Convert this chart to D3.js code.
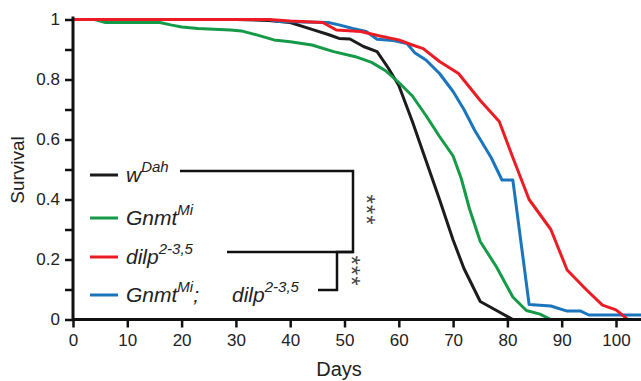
<!DOCTYPE html>
<html>
<head>
<meta charset="utf-8">
<script src="https://cdn.jsdelivr.net/npm/d3@7"></script>
<style>
  html, body { margin: 0; padding: 0; background: #fff; }
  svg { display: block; font-family: "Liberation Sans", Arial, sans-serif; }
</style>
</head>
<body>
<div id="chart"></div>
<script>
// survival curves, [day, fraction alive]
const wDah = [[0,1],[30,1],[36,0.997],[40,0.99],[44,0.967],[47,0.95],[49,0.937],[51,0.935],[53.5,0.91],[56,0.893],
  [58,0.84],[60,0.78],[62.5,0.66],[65,0.53],[67.5,0.40],[70,0.265],[72,0.17],[75,0.06],[78,0.03],[81,0]];
const gnmt = [[0,1],[4,1],[6,0.99],[16,0.99],[18,0.982],[20,0.975],[23,0.97],[29,0.965],[31,0.962],[34,0.948],
  [37,0.932],[40,0.926],[44,0.915],[48,0.893],[52,0.876],[55,0.857],[57.5,0.83],[60,0.79],[62.5,0.745],[65,0.68],
  [67.5,0.61],[70,0.545],[71.5,0.47],[73,0.37],[75,0.26],[78,0.175],[81,0.075],[83.5,0.03],[86,0.018],[88,0],[91,0]];
const dilp = [[0,1],[36,1],[40,0.995],[46,0.99],[48.5,0.965],[53,0.96],[56.5,0.945],[60,0.932],[62.5,0.915],
  [64.5,0.903],[67.5,0.86],[71,0.82],[75,0.73],[78.5,0.66],[81,0.54],[84,0.40],[86,0.35],[88,0.30],[91,0.165],
  [94.5,0.10],[97.5,0.048],[100,0.032],[102,0.003]];
const gnmtDilp = [[0,1],[36,1],[38,0.993],[47,0.99],[49,0.982],[51.5,0.97],[54,0.96],[56,0.934],[59,0.93],
  [61.5,0.92],[63,0.888],[65,0.865],[67.5,0.82],[70,0.76],[72,0.70],[74,0.63],[77,0.54],[79,0.465],[81,0.465],
  [84,0.05],[88,0.045],[91,0.028],[93.5,0.028],[95,0.015],[105,0.015]];

const xTicks = [0,10,20,30,40,50,60,70,80,90,100];
const yTicks = [0,0.2,0.4,0.6,0.8,1];
const yMinor = [0.1,0.3,0.5,0.7,0.9];

const W = 641, H = 381;
const svg = d3.select("#chart").append("svg").attr("width", W).attr("height", H);

const x = d3.scaleLinear().domain([0,105]).range([73, 73 + 105*5.43]);
const y = d3.scaleLinear().domain([0,1]).range([319.5, 19.5]);

// curves
const series = [
  {data: wDah, color: "#1c1c1c"},
  {data: gnmt, color: "#159a48"},
  {data: gnmtDilp, color: "#1b75bc"},
  {data: dilp, color: "#ec1c24"}
];
const line = d3.line().x(d => x(d[0])).y(d => y(d[1]));
svg.append("clipPath").attr("id","clip").append("rect")
  .attr("x", 73).attr("y", 0).attr("width", W-73).attr("height", 321);
svg.append("g").attr("clip-path","url(#clip)")
  .selectAll("path").data(series).enter().append("path")
  .attr("d", d => line(d.data))
  .attr("fill","none").attr("stroke", d => d.color)
  .attr("stroke-width", 3).attr("stroke-linejoin","round");

// axes
const xAxis = svg.append("g").attr("transform","translate(0,319.5)")
  .call(d3.axisBottom(x).tickValues(xTicks).tickSize(8).tickPadding(6).tickSizeOuter(0));
const yAxis = svg.append("g").attr("transform","translate(73,0)")
  .call(d3.axisLeft(y).tickValues(yTicks).tickFormat(d3.format("~g")).tickSize(8).tickPadding(5).tickSizeOuter(0));
svg.append("g").attr("transform","translate(73,0)")
  .call(d3.axisLeft(y).tickValues(yMinor).tickFormat("").tickSize(8).tickSizeOuter(0))
  .select(".domain").remove();
svg.selectAll(".domain").attr("stroke","#111").attr("stroke-width",3);
svg.selectAll(".tick line").attr("stroke","#111").attr("stroke-width",2.5);
xAxis.select(".domain").attr("d", `M${73},0H${W}`);
yAxis.select(".domain").attr("d", `M0,${y(1)-3}V${y(0)}`);
svg.selectAll(".tick text").attr("font-size", 17).attr("fill","#222")
  .attr("font-family", "Liberation Sans, Arial, sans-serif");

// axis titles
svg.append("text").attr("x", 339).attr("y", 376).attr("text-anchor","middle")
  .attr("font-size", 20).attr("fill","#222").text("Days");
svg.append("text").attr("transform","translate(24,170) rotate(-90)").attr("text-anchor","middle")
  .attr("font-size", 19).attr("fill","#222").text("Survival");

// legend
const legend = [
  {name: "w", sup: "Dah", color: "#1c1c1c", y: 175},
  {name: "Gnmt", sup: "Mi", color: "#159a48", y: 218},
  {name: "dilp", sup: "2-3,5", color: "#ec1c24", y: 257},
  {name: "Gnmt", sup: "Mi", extra: ";", color: "#1b75bc", y: 295}
];
const lg = svg.append("g");
legend.forEach(d => {
  lg.append("line").attr("x1", 90).attr("x2", 118).attr("y1", d.y).attr("y2", d.y)
    .attr("stroke", d.color).attr("stroke-width", 3);
  const t = lg.append("text").attr("x", 126).attr("y", d.y + 7)
    .attr("font-size", 21).attr("font-style","italic").attr("fill","#222");
  t.append("tspan").text(d.name);
  t.append("tspan").attr("dy", -10).attr("font-size", 15).text(d.sup);
  if (d.extra) t.append("tspan").attr("dy", 10).attr("font-size", 21).text(d.extra);
});
const t4 = lg.append("text").attr("x", 232).attr("y", 302)
  .attr("font-size", 21).attr("font-style","italic").attr("fill","#222");
t4.append("tspan").text("dilp");
t4.append("tspan").attr("dy", -10).attr("font-size", 15).text("2-3,5");

// significance brackets
const br = svg.append("g").attr("fill","none").attr("stroke","#111").attr("stroke-width",2.5);
br.append("path").attr("d","M180,171H353V252H227");
br.append("path").attr("d","M353,252H337V290H318");
svg.append("text").attr("transform","translate(358,210) rotate(90)").attr("text-anchor","middle")
  .attr("font-size", 24).attr("fill","#444").attr("letter-spacing", 1).text("***");
svg.append("text").attr("transform","translate(343,271) rotate(90)").attr("text-anchor","middle")
  .attr("font-size", 24).attr("fill","#444").attr("letter-spacing", 1).text("***");
</script>
</body>
</html>
